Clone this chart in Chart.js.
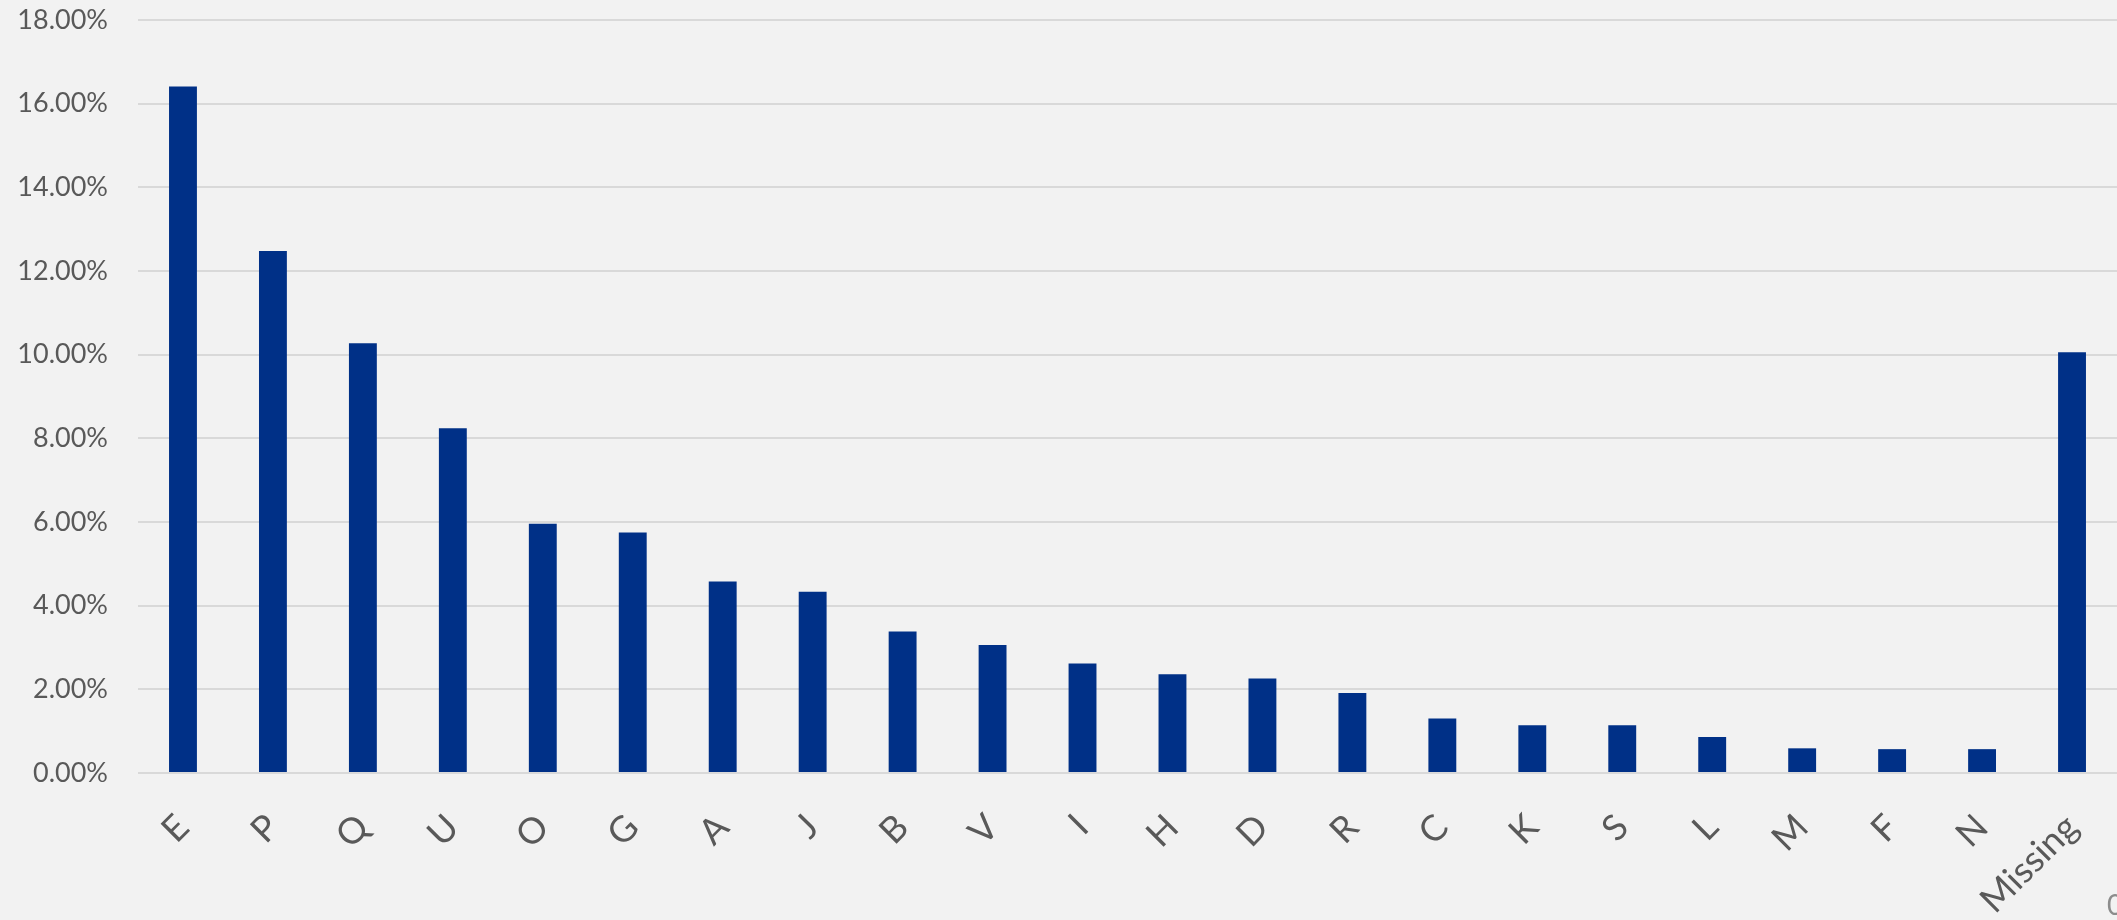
<!DOCTYPE html>
<html>
<head>
<meta charset="utf-8">
<script src="https://cdn.jsdelivr.net/npm/chart.js@4"></script>
<style>
  html, body { margin: 0; padding: 0; background: #f2f2f2; }
  #wrap { width: 2117px; height: 920px; }
</style>
</head>
<body>
<div id="wrap"><canvas id="chart"></canvas></div>
<script>
const categories = ["E", "P", "Q", "U", "O", "G", "A", "J", "B", "V", "I", "H", "D", "R", "C", "K", "S", "L", "M", "F", "N", "Missing"];
const shares = [16.41, 12.48, 10.27, 8.24, 5.96, 5.75, 4.58, 4.33, 3.38, 3.06, 2.62, 2.36, 2.26, 1.91, 1.30, 1.14, 1.14, 0.86, 0.59, 0.57, 0.57, 10.06];
const yMax = 18;
const yStep = 2;

// the clipped "0" in the bottom right corner of the original picture
const cornerText = {
  id: "cornerText",
  afterDraw(chart) {
    const ctx = chart.ctx;
    ctx.save();
    ctx.fillStyle = "#8c8c8c";
    ctx.font = "28px Lato";
    ctx.textBaseline = "alphabetic";
    ctx.fillText("0", 2107, 915);
    ctx.restore();
  },
};

new Chart(document.getElementById("chart"), {
  type: "bar",
  data: {
    labels: categories,
    datasets: [
      {
        data: shares,
        backgroundColor: "#003087",
        borderWidth: 0,
        categoryPercentage: 1,
        barPercentage: 0.31,
      },
    ],
  },
  options: {
    responsive: true,
    maintainAspectRatio: false,
    animation: false,
    layout: { padding: { top: 20, right: 0, bottom: 0, left: 0 } },
    plugins: {
      legend: { display: false },
      tooltip: { enabled: false },
    },
    scales: {
      x: {
        afterFit: (axis) => {
          axis.height = 147;
          axis.paddingLeft = 0;
          axis.paddingRight = 0;
        },
        grid: { display: false, drawTicks: false },
        border: { display: false },
        ticks: {
          color: "#595959",
          font: { family: "Lato", size: 36 },
          minRotation: 45,
          maxRotation: 45,
          padding: 33,
          autoSkip: false,
        },
      },
      y: {
        min: 0,
        max: yMax,
        afterFit: (axis) => {
          axis.width = 138;
          axis.paddingTop = 0;
          axis.paddingBottom = 0;
        },
        grid: { color: "#d9d9d9", lineWidth: 2, drawTicks: false },
        border: { display: false },
        ticks: {
          stepSize: yStep,
          color: "#595959",
          font: { family: "Lato", size: 27 },
          padding: 30,
          callback: (value) => `${value.toFixed(2)}%`,
        },
      },
    },
  },
  plugins: [cornerText],
});
</script>
</body>
</html>
